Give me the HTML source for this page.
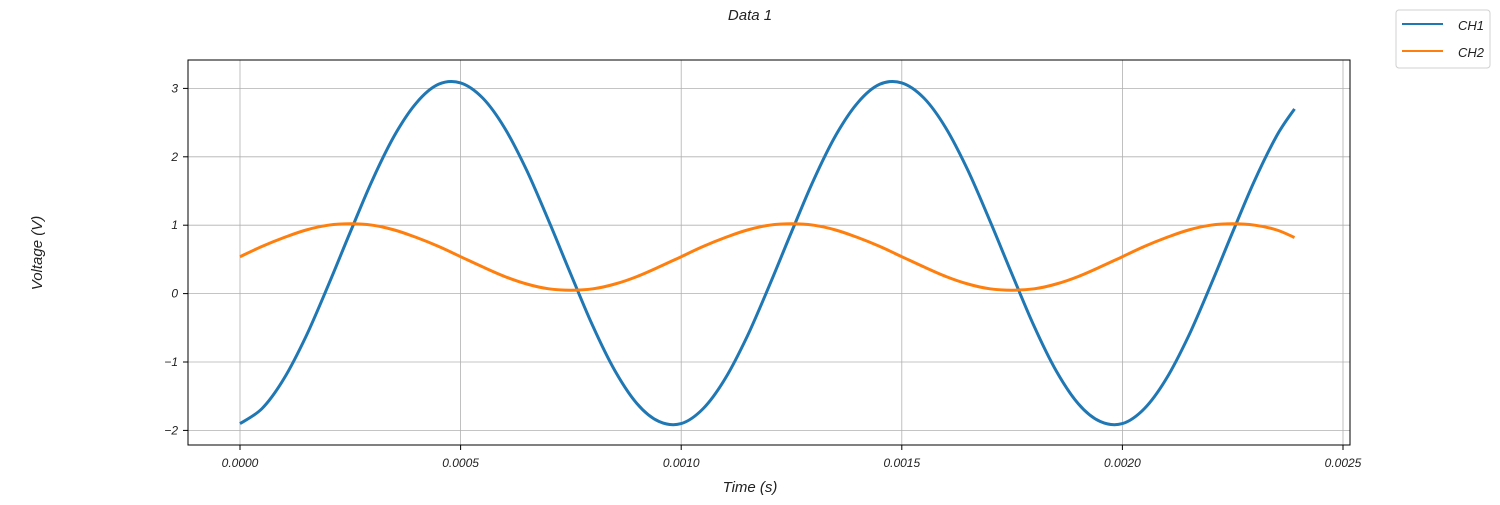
<!DOCTYPE html>
<html><head><meta charset="utf-8">
<style>
body{margin:0;background:#fff;}
svg text{font-family:"Liberation Sans",sans-serif;font-style:italic;fill:#222;}
</style></head>
<body>
<svg id="chart" width="1500" height="500" xmlns="http://www.w3.org/2000/svg">
<rect x="0" y="0" width="1500" height="500" fill="#fff"/>
<text x="750" y="20" text-anchor="middle" font-size="15">Data 1</text>
<text x="750" y="492" text-anchor="middle" font-size="15">Time (s)</text>
<text transform="translate(42,253) rotate(-90)" text-anchor="middle" font-size="15">Voltage (V)</text>
<g id="grid"></g>
<g id="series"></g>
<rect x="188" y="60" width="1162" height="385" fill="none" stroke="#000" stroke-width="1"/>
<g id="ticks"></g>
<g>
<rect x="1396" y="10" width="94" height="58" rx="3" fill="#fff" stroke="#d0d0d0"/>
<line x1="1402" y1="24" x2="1443" y2="24" stroke="#1f77b4" stroke-width="2"/>
<text x="1458" y="30" font-size="13">CH1</text>
<line x1="1402" y1="51" x2="1443" y2="51" stroke="#ff7f0e" stroke-width="2"/>
<text x="1458" y="57" font-size="13">CH2</text>
</g>
</svg>
<script>
const times = [0,0.00005,0.0001,0.00015,0.0002,0.00025,0.0003,0.00035,0.0004,0.00045,0.0005,0.00055,0.0006,0.00065,0.0007,0.00075,0.0008,0.00085,0.0009,0.00095,
0.001,0.00105,0.0011,0.00115,0.0012,0.00125,0.0013,0.00135,0.0014,0.00145,0.0015,0.00155,0.0016,0.00165,0.0017,0.00175,0.0018,0.00185,0.0019,0.00195,
0.002,0.00205,0.0021,0.00215,0.0022,0.00225,0.0023,0.00235,0.00239];
const ch1 = [-1.90,-1.68,-1.24,-0.62,0.12,0.90,1.66,2.31,2.79,3.06,3.08,2.86,2.42,1.80,1.06,0.28,-0.48,-1.13,-1.61,-1.87,
-1.90,-1.68,-1.24,-0.62,0.12,0.90,1.66,2.31,2.79,3.06,3.08,2.86,2.42,1.80,1.06,0.28,-0.48,-1.13,-1.61,-1.87,
-1.90,-1.68,-1.24,-0.62,0.12,0.90,1.66,2.31,2.70];
const ch2 = [0.54,0.69,0.82,0.93,1.00,1.02,1.00,0.93,0.82,0.69,0.54,0.39,0.25,0.14,0.07,0.05,0.07,0.14,0.25,0.39,
0.54,0.69,0.82,0.93,1.00,1.02,1.00,0.93,0.82,0.69,0.54,0.39,0.25,0.14,0.07,0.05,0.07,0.14,0.25,0.39,
0.54,0.69,0.82,0.93,1.00,1.02,1.00,0.93,0.82];
const xTicks = [0,0.0005,0.001,0.0015,0.002,0.0025];
const xTickLabels = ["0.0000","0.0005","0.0010","0.0015","0.0020","0.0025"];
const yTicks = [-2,-1,0,1,2,3];
const yTickLabels = ["\u22122","\u22121","0","1","2","3"];

const NS="http://www.w3.org/2000/svg";
function xs(t){return 240 + t/0.0025*1103;}
function ys(v){return 293.6 - v*68.4;}
function mk(tag,attrs,parent){const e=document.createElementNS(NS,tag);for(const k in attrs)e.setAttribute(k,attrs[k]);parent.appendChild(e);return e;}
const grid=document.getElementById('grid'), ticks=document.getElementById('ticks'), series=document.getElementById('series');
xTicks.forEach((t,i)=>{
  const x=xs(t);
  const g=mk('line',{x1:x,y1:60,x2:x,y2:445,stroke:'#b0b0b0','stroke-width':0.8},grid);
  
  
  const tk=mk('line',{x1:x,y1:445,x2:x,y2:450,stroke:'#000'},ticks);
  
  
  const lb=mk('text',{x:x,y:467,'text-anchor':'middle','font-size':12},ticks);
  lb.textContent=xTickLabels[i];
  
  
});
yTicks.forEach((v,i)=>{
  const y=ys(v);
  const g=mk('line',{x1:188,y1:y,x2:1350,y2:y,stroke:'#b0b0b0','stroke-width':0.8},grid);
  
  
  const tk=mk('line',{x1:183,y1:y,x2:188,y2:y,stroke:'#000'},ticks);
  
  
  const lb=mk('text',{x:178,y:y+4,'text-anchor':'end','font-size':12},ticks);
  lb.textContent=yTickLabels[i];
  
  
});
function pathFor(vals){
  const P=times.map((t,i)=>[xs(t),ys(vals[i])]);
  let d='M'+P[0][0].toFixed(1)+','+P[0][1].toFixed(1);
  for(let i=0;i<P.length-1;i++){
    const p0=P[Math.max(i-1,0)],p1=P[i],p2=P[i+1],p3=P[Math.min(i+2,P.length-1)];
    const c1=[p1[0]+(p2[0]-p0[0])/6,p1[1]+(p2[1]-p0[1])/6];
    const c2=[p2[0]-(p3[0]-p1[0])/6,p2[1]-(p3[1]-p1[1])/6];
    d+=' C'+c1[0].toFixed(1)+','+c1[1].toFixed(1)+' '+c2[0].toFixed(1)+','+c2[1].toFixed(1)+' '+p2[0].toFixed(1)+','+p2[1].toFixed(1);
  }
  return d;
}
const l1=mk('path',{d:pathFor(ch1),fill:'none',stroke:'#1f77b4','stroke-width':3,'stroke-linejoin':'round'},series);


const l2=mk('path',{d:pathFor(ch2),fill:'none',stroke:'#ff7f0e','stroke-width':3,'stroke-linejoin':'round'},series);


</script>
</body></html>
